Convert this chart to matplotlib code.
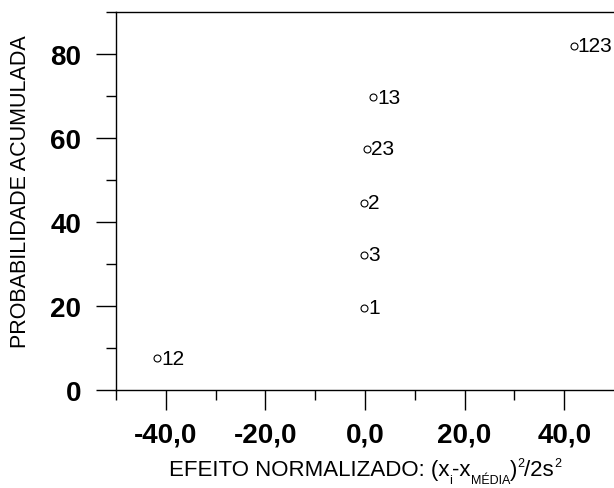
import matplotlib
matplotlib.use("Agg")
import matplotlib.pyplot as plt
from matplotlib.ticker import FixedLocator, FixedFormatter

# Effects (normalised) and cumulative probability for each factor combination
effect_labels = ["12", "1", "3", "2", "23", "13", "123"]
normalized_effect = [-41.7, -0.2, -0.2, -0.2, 0.4, 1.6, 41.9]
cumulative_prob = [7.6, 19.6, 32.2, 44.6, 57.5, 69.7, 82.0]

x_major = [-40, -20, 0, 20, 40]
x_major_labels = ["-40,0", "-20,0", "0,0", "20,0", "40,0"]
x_minor = [-50, -30, -10, 10, 30]
y_major = [0, 20, 40, 60, 80]
y_major_labels = ["0", "20", "40", "60", "80"]
y_minor = [10, 30, 50, 70, 90]

plt.rcParams["font.family"] = ["Liberation Sans", "DejaVu Sans"]

fig = plt.figure(figsize=(6.14, 4.89), dpi=100)
ax = fig.add_axes([116 / 614, 98 / 489, 1 - 116 / 614, (391 - 13) / 489])

ax.plot(normalized_effect, cumulative_prob, linestyle="none", marker="o",
        markersize=5, markerfacecolor="white", markeredgecolor="black",
        markeredgewidth=0.8, clip_on=False)
for xv, yv, lab in zip(normalized_effect, cumulative_prob, effect_labels):
    ax.annotate(lab, (xv, yv), xytext=(3.0, 0), textcoords="offset points",
                ha="left", va="center", fontsize=15, color="black")

ax.set_xlim(-50, 50)
ax.set_ylim(0, 90)

ax.xaxis.set_major_locator(FixedLocator(x_major))
ax.xaxis.set_major_formatter(FixedFormatter(x_major_labels))
ax.xaxis.set_minor_locator(FixedLocator(x_minor))
ax.yaxis.set_major_locator(FixedLocator(y_major))
ax.yaxis.set_major_formatter(FixedFormatter(y_major_labels))
ax.yaxis.set_minor_locator(FixedLocator(y_minor))

ax.tick_params(which="major", direction="out", length=14.4, width=1.0,
               labelsize=20, colors="black")
ax.tick_params(which="minor", direction="out", length=7.2, width=1.0)
ax.tick_params(axis="x", which="major", pad=8.5)
ax.tick_params(axis="y", which="major", pad=10.5)
for lab in ax.get_xticklabels() + ax.get_yticklabels():
    lab.set_fontweight("bold")

for side in ["left", "bottom", "top"]:
    ax.spines[side].set_linewidth(1.0)
ax.spines["right"].set_visible(False)

# x-axis title built from pieces so sub/superscripts sit small and well off the baseline
# (text, font size in pt, baseline shift in px)
title_pieces = [
    ("EFEITO NORMALIZADO: (x", 16, 0),
    ("i", 9, -8),
    ("-x", 16, 0),
    ("MÉDIA", 9, -8),
    (")", 16, 0),
    ("2", 9, 9),
    ("/2s", 16, 0),
    ("2", 9, 9),
]
renderer = fig.canvas.get_renderer()
baseline_px = 489 - 476
widths = []
texts = []
for s, fs, dy in title_pieces:
    t = fig.text(0, 0, s, fontsize=fs, ha="left", va="baseline")
    widths.append(t.get_window_extent(renderer).width)
    texts.append(t)
total = sum(widths)
x0 = 365 - total / 2
for t, w, (s, fs, dy) in zip(texts, widths, title_pieces):
    t.set_position((x0 / 614, (baseline_px + dy) / 489))
    x0 += w

fig.text(20.5 / 614, 1 - 192 / 489, "PROBABILIDADE ACUMULADA",
         rotation=90, ha="center", va="center", fontsize=15.5)

fig.savefig("out.png", dpi=100)
